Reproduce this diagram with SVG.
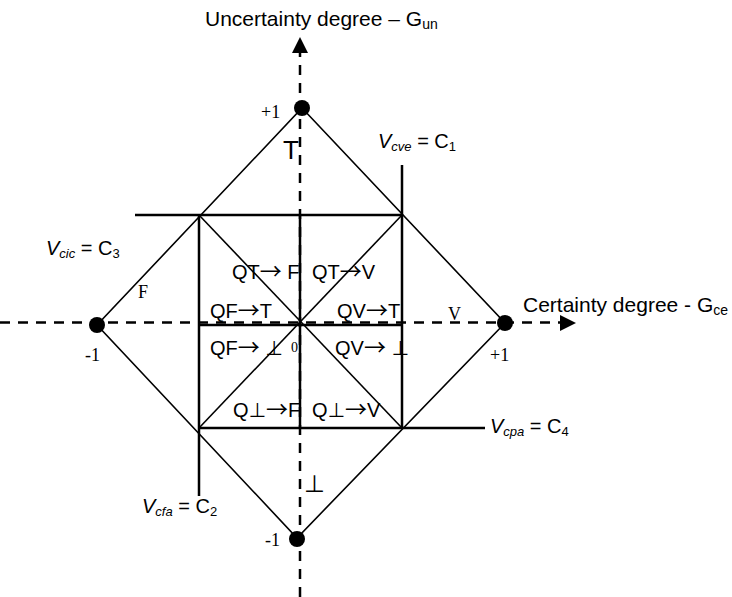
<svg xmlns="http://www.w3.org/2000/svg" width="732" height="597" viewBox="0 0 732 597">
<style>
.axis{stroke:#000;stroke-width:2.5;stroke-dasharray:10 8;fill:none}
.edge{stroke:#000;stroke-width:1.6;fill:none}
.sq{stroke:#000;stroke-width:2.5;fill:none}
.sans{font-family:"Liberation Sans",Arial,sans-serif;fill:#000}
.serif{font-family:"Liberation Serif","Times New Roman",serif;fill:#000}
.q{font-family:"Liberation Sans",Arial,"DejaVu Sans",sans-serif;font-size:20px;fill:#000}
.ar{font-family:"Noto Sans CJK SC","DejaVu Sans",sans-serif;font-size:22px}
.lab{font-family:"Liberation Sans",Arial,sans-serif;font-size:20px;fill:#000}
.dot{fill:#000}
</style>
<rect width="732" height="597" fill="#fff"/>
<g id="connectors">
  <line class="axis" x1="300" y1="597" x2="300" y2="52"/>
  <polygon points="300,37 292,53 308,53" fill="#000"/>
  <line class="axis" x1="0" y1="322.5" x2="561" y2="322.5"/>
  <polygon points="576,323 560,315 560,331" fill="#000"/>
  <polygon class="edge" points="302,108 505,323 297,538 97,325"/>
  <line class="sq" x1="402" y1="165" x2="402" y2="429"/>
  <line class="sq" x1="199" y1="215" x2="199" y2="496"/>
  <line class="sq" x1="135" y1="215" x2="402" y2="215"/>
  <line class="sq" x1="199" y1="428" x2="485" y2="428"/>
  <line class="sq" x1="300" y1="215" x2="300" y2="428"/>
  <line class="sq" x1="199" y1="325" x2="402" y2="325"/>
  <line class="edge" x1="199" y1="215" x2="402" y2="428" stroke-width="2.2"/>
  <line class="edge" x1="402" y1="215" x2="199" y2="428" stroke-width="2.2"/>
</g>
<g id="node-top"><circle class="dot" cx="302" cy="108" r="8"/><text class="serif" x="261" y="118" font-size="18">+1</text></g>
<g id="node-right"><circle class="dot" cx="505" cy="323" r="8"/><text class="serif" x="490" y="361" font-size="18">+1</text></g>
<g id="node-bottom"><circle class="dot" cx="297" cy="539" r="8"/><text class="serif" x="265" y="546" font-size="18">-1</text></g>
<g id="node-left"><circle class="dot" cx="97" cy="325" r="8"/><text class="serif" x="85" y="361" font-size="18">-1</text></g>
<g id="axis-labels">
  <text class="sans" x="205" y="26" font-size="21">Uncertainty degree – G<tspan font-size="14" dy="3">un</tspan></text>
  <text class="sans" x="523" y="312" font-size="21">Certainty degree - G<tspan font-size="14" dy="3">ce</tspan></text>
</g>
<g id="states">
  <text class="sans" x="283" y="159" font-size="26">T</text>
  <text class="sans" x="304" y="492" font-size="24">⊥</text>
  <text class="serif" x="138" y="298" font-size="18">F</text>
  <text class="serif" x="448" y="320" font-size="18">V</text>
  <text class="serif" x="291" y="352" font-size="14">0</text>
</g>
<g id="limits">
  <text class="lab" x="378" y="148"><tspan font-style="italic">V</tspan><tspan font-style="italic" font-size="13" dy="3">cve</tspan><tspan dy="-3"> = C</tspan><tspan font-size="13" dy="3">1</tspan></text>
  <text class="lab" x="46" y="255"><tspan font-style="italic">V</tspan><tspan font-style="italic" font-size="13" dy="3">cic</tspan><tspan dy="-3"> = C</tspan><tspan font-size="13" dy="3">3</tspan></text>
  <text class="lab" x="142" y="513"><tspan font-style="italic">V</tspan><tspan font-style="italic" font-size="13" dy="3">cfa</tspan><tspan dy="-3"> = C</tspan><tspan font-size="13" dy="3">2</tspan></text>
  <text class="lab" x="490" y="433"><tspan font-style="italic">V</tspan><tspan font-style="italic" font-size="13" dy="3">cpa</tspan><tspan dy="-3"> = C</tspan><tspan font-size="13" dy="3">4</tspan></text>
</g>
<g id="regions">
  <text class="q" x="232" y="279">QT<tspan class="ar">→</tspan> F</text>
  <text class="q" x="312" y="279">QT<tspan class="ar">→</tspan>V</text>
  <text class="q" x="210" y="318">QF<tspan class="ar">→</tspan>T</text>
  <text class="q" x="337" y="318">QV<tspan class="ar">→</tspan>T</text>
  <text class="q" x="210" y="355">QF<tspan class="ar">→</tspan> ⊥</text>
  <text class="q" x="335" y="355">QV<tspan class="ar">→</tspan> ⊥</text>
  <text class="q" x="233" y="417">Q⊥<tspan class="ar">→</tspan>F</text>
  <text class="q" x="312" y="417">Q⊥<tspan class="ar">→</tspan>V</text>
</g>
</svg>
